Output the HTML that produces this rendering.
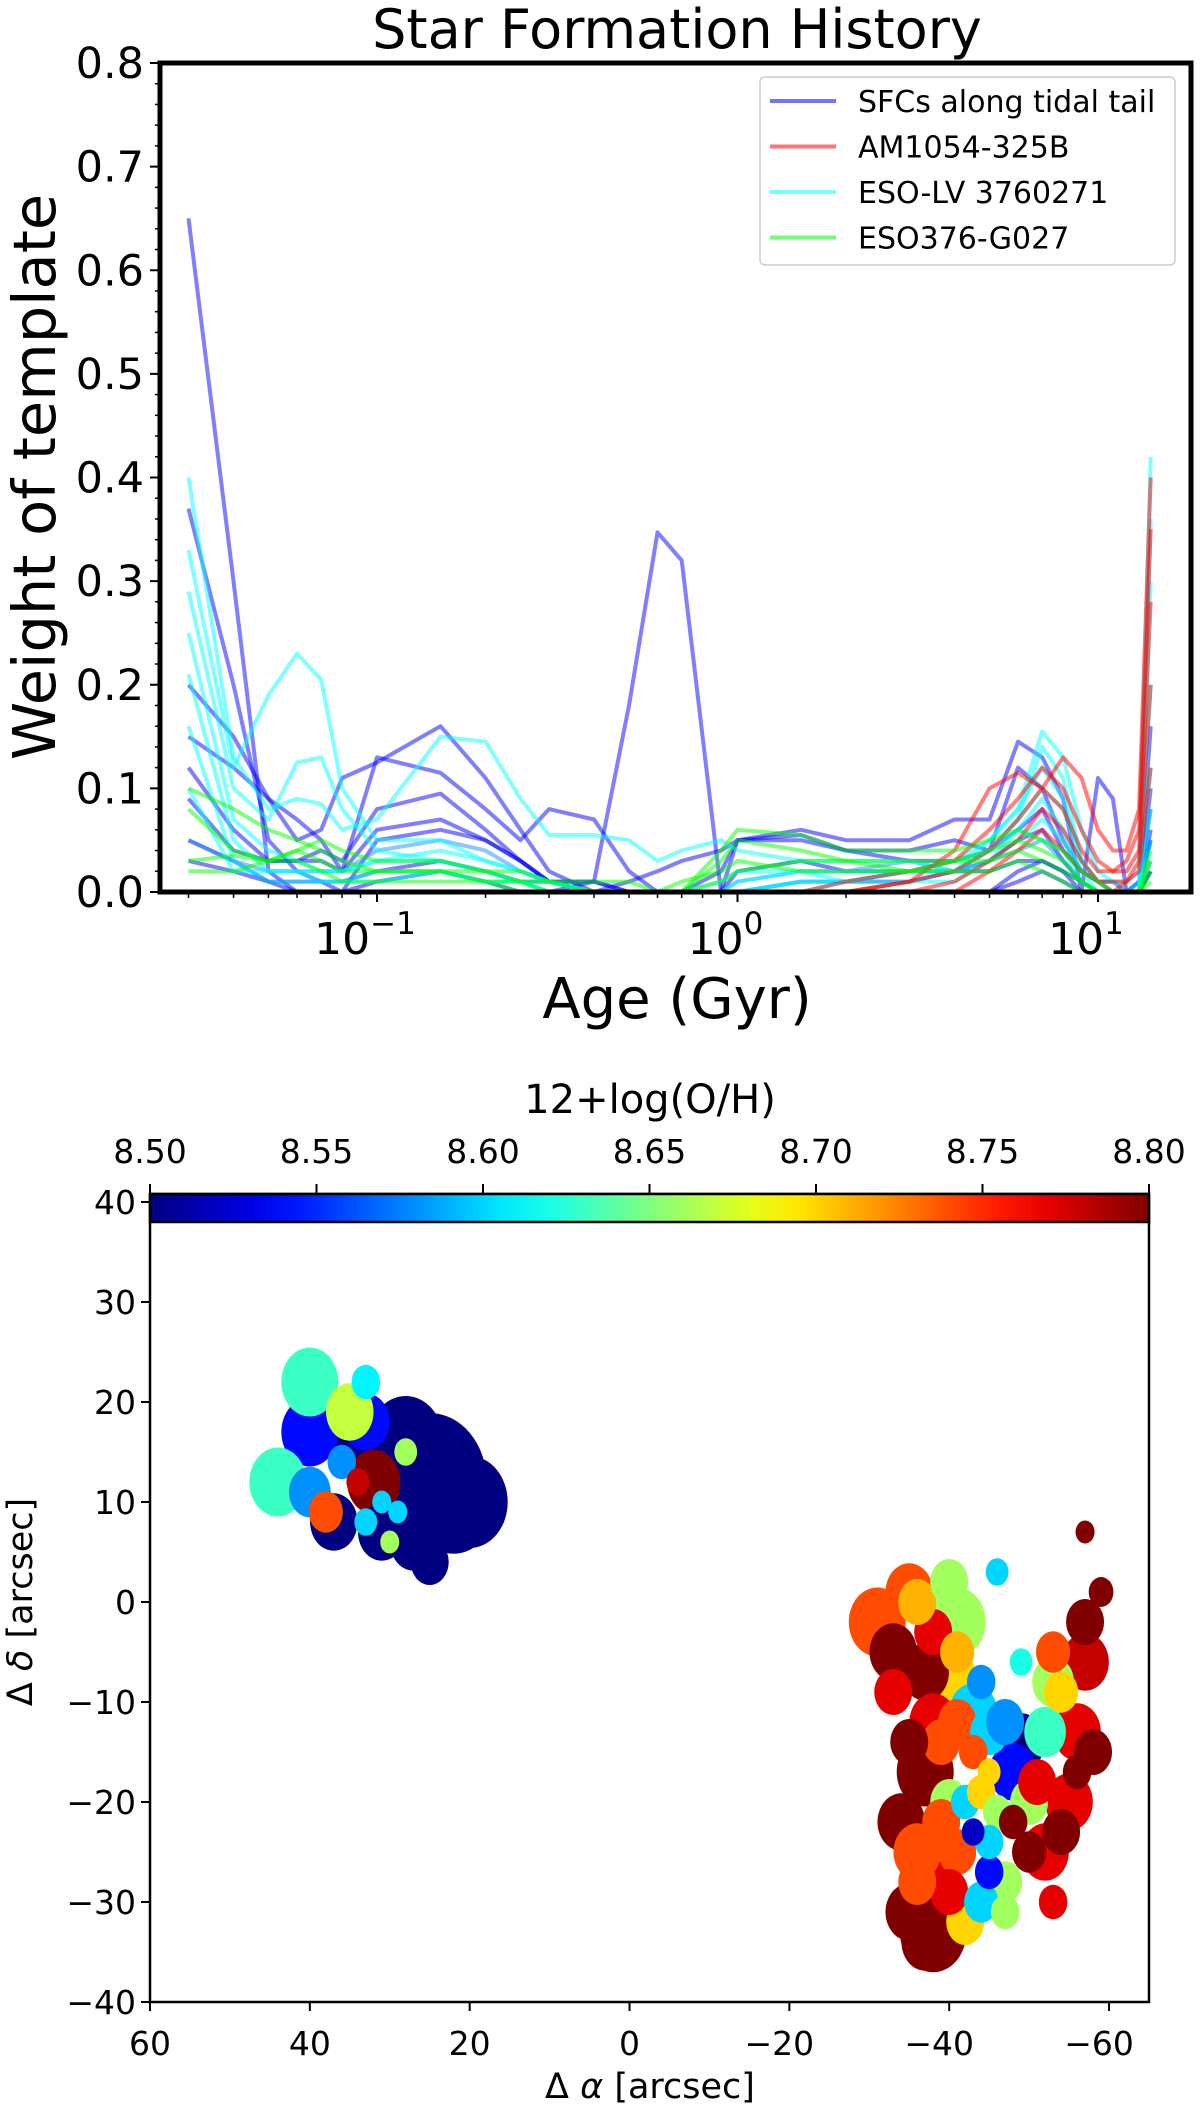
<!DOCTYPE html>
<html><head><meta charset="utf-8">
<style>
html,body{margin:0;padding:0;background:#fff;}
svg{display:block;font-family:"DejaVu Sans","Liberation Sans",sans-serif;}
</style></head>
<body>
<svg id="fig" width="1200" height="2104" viewBox="0 0 1200 2104" xmlns="http://www.w3.org/2000/svg">
<rect width="1200" height="2104" fill="#fff"/>
<g id="sfh"></g>
<g id="map"></g>
</svg>
<script>
// ===== SFH chart data =====
const ages = [0.03,0.04,0.05,0.06,0.07,0.08,0.1,0.15,0.2,0.25,0.3,0.4,0.5,0.6,0.7,0.9,1.0,1.5,2,3,4,5,6,7,8,9,10,11,12,13,14];
const seriesColors = ["#0000ff","#0000ff","#0000ff","#0000ff","#0000ff","#0000ff","#0000ff","#1e90ff","#0000ff",
  "#00ffff","#00ffff","#00ffff","#00ffff","#00ffff","#00ffff","#00ffff",
  "#ff0000","#ff0000","#ff0000","#ff0000","#ff0000",
  "#00ff00","#00ff00","#00ff00","#00ff00"];
const blue1 = [0.65,0.30,0.02,0,0,0,0,0,0,0,0,0,0,0,0,0,0,0,0,0,0,0,0.01,0.02,0.01,0,0,0,0,0.01,0.05];
const blue2 = [0.05,0.03,0.01,0,0,0,0.01,0.02,0.01,0,0,0.01,0.18,0.347,0.32,0,0,0,0,0,0,0,0,0,0,0,0,0,0,0,0.02];
const blue3 = [0.2,0.15,0.09,0.05,0.06,0.11,0.125,0.16,0.11,0.06,0.02,0,0,0,0,0,0,0,0,0,0,0,0.02,0.03,0.02,0,0,0,0,0,0.06];
const blue4 = [0.15,0.12,0.09,0.07,0.05,0.02,0.13,0.115,0.08,0.05,0.08,0.07,0.02,0,0,0,0.05,0.06,0.05,0.05,0.07,0.07,0.145,0.13,0.09,0,0.11,0.09,0,0,0.16];
const blue5 = [0.12,0.06,0.03,0.03,0.04,0.03,0.08,0.095,0.06,0.03,0.01,0,0,0,0,0.02,0.05,0.055,0.04,0.04,0.05,0.04,0.12,0.10,0.05,0.02,0.01,0.01,0,0,0.10];
const blue6 = [0.09,0.04,0.03,0.03,0.03,0.02,0.06,0.07,0.05,0.03,0.01,0,0.01,0.02,0.03,0.04,0.05,0.05,0.04,0.03,0.03,0.04,0.06,0.08,0.04,0.02,0.01,0,0,0,0.05];
const blue7 = [0.37,0.2,0.05,0.02,0.01,0,0.05,0.06,0.05,0.03,0.01,0.01,0,0,0,0,0.02,0.03,0.02,0.02,0.02,0.03,0.05,0.06,0.03,0.01,0,0,0,0.01,0.08];
const blue8 = [0.05,0.03,0.02,0.02,0.02,0.02,0.04,0.05,0.04,0.02,0.01,0,0,0,0,0,0.01,0.02,0.02,0.03,0.02,0.03,0.04,0.05,0.03,0.01,0,0,0,0,0.03];
const blue9 = [0.03,0.02,0.01,0.01,0.01,0.01,0.02,0.03,0.02,0.01,0.01,0.01,0,0,0,0,0,0.01,0.01,0.01,0.02,0.02,0.03,0.03,0.02,0.01,0,0,0,0,0.02];
const cyan1 = [0.40,0.13,0.08,0.09,0.085,0.06,0.07,0.15,0.145,0.09,0.055,0.055,0.05,0.03,0.04,0.05,0.04,0.03,0.03,0.03,0.02,0.05,0.08,0.155,0.13,0.06,0.02,0.01,0.01,0.02,0.42];
const cyan2 = [0.33,0.12,0.19,0.23,0.205,0.10,0.05,0.05,0.03,0.02,0.01,0,0,0,0,0.01,0.02,0.02,0.01,0.02,0.02,0.04,0.07,0.14,0.11,0.03,0.01,0,0,0,0.36];
const cyan3 = [0.29,0.10,0.07,0.125,0.13,0.08,0.04,0.03,0.02,0.01,0,0,0,0,0,0,0,0.01,0.01,0.02,0.03,0.05,0.08,0.12,0.09,0.03,0.01,0,0,0,0.30];
const cyan4 = [0.25,0.07,0.04,0.03,0.02,0.02,0.03,0.04,0.03,0.02,0.01,0,0,0,0,0,0.01,0.02,0.02,0.02,0.03,0.04,0.07,0.10,0.08,0.03,0.01,0.01,0,0.01,0.20];
const cyan5 = [0.21,0.05,0.02,0.02,0.01,0.01,0.02,0.02,0.01,0.01,0.01,0,0,0,0,0,0,0.01,0.01,0.02,0.02,0.04,0.06,0.09,0.06,0.02,0,0,0,0,0.12];
const cyan6 = [0.16,0.03,0.01,0.01,0.01,0.01,0.01,0.02,0.01,0.01,0,0,0,0,0,0,0,0,0.01,0.01,0.02,0.03,0.05,0.07,0.05,0.02,0.01,0,0,0,0.08];
const cyan7 = [0.10,0.02,0.02,0.02,0.02,0.02,0.03,0.03,0.02,0.01,0,0,0,0,0,0,0,0,0,0.01,0.01,0.03,0.06,0.05,0.04,0.01,0,0,0,0,0.05];
const red1 = [0,0,0,0,0,0,0,0,0,0,0,0,0,0,0,0,0,0,0,0.01,0.04,0.10,0.115,0.10,0.13,0.11,0.06,0.04,0.04,0.08,0.40];
const red2 = [0,0,0,0,0,0,0,0,0,0,0,0,0,0,0,0,0,0,0.01,0.02,0.03,0.06,0.09,0.12,0.10,0.06,0.03,0.02,0.03,0.06,0.35];
const red3 = [0,0,0,0,0,0,0,0,0,0,0,0,0,0,0,0,0,0,0,0.01,0.02,0.04,0.07,0.10,0.08,0.04,0.02,0.02,0.02,0.04,0.28];
const red4 = [0,0,0,0,0,0,0,0,0,0,0,0,0,0,0,0,0,0,0,0,0.01,0.03,0.05,0.08,0.06,0.03,0.01,0.01,0.01,0.03,0.20];
const red5 = [0,0,0,0,0,0,0,0,0,0,0,0,0,0,0,0,0,0,0,0,0,0.02,0.04,0.06,0.04,0.02,0.01,0,0.01,0.02,0.12];
const green1 = [0.10,0.08,0.06,0.05,0.04,0.03,0.02,0.02,0.02,0.02,0.01,0.01,0.01,0,0,0.04,0.06,0.055,0.04,0.04,0.04,0.05,0.06,0.05,0.04,0.02,0.01,0,0,0,0.04];
const green2 = [0.08,0.04,0.03,0.04,0.05,0.04,0.03,0.03,0.02,0.01,0,0,0,0,0,0.03,0.05,0.04,0.03,0.03,0.03,0.04,0.05,0.04,0.03,0.01,0,0,0,0,0.03];
const green3 = [0.03,0.035,0.03,0.04,0.03,0.02,0.02,0.02,0.01,0.01,0.01,0,0,0,0,0.01,0.02,0.03,0.03,0.02,0.03,0.03,0.04,0.03,0.02,0.01,0,0,0,0,0.02];
const green4 = [0.02,0.02,0.03,0.03,0.02,0.01,0.01,0.01,0.01,0,0,0,0,0,0.01,0.02,0.03,0.02,0.02,0.02,0.02,0.02,0.03,0.02,0.01,0,0,0,0,0,0.01];
const allSeries = [blue1,blue2,blue3,blue4,blue5,blue6,blue7,blue8,blue9,cyan1,cyan2,cyan3,cyan4,cyan5,cyan6,cyan7,red1,red2,red3,red4,red5,green1,green2,green3,green4];
const yTicks = [0,0.1,0.2,0.3,0.4,0.5,0.6,0.7,0.8];
const xDecades = [-1,0,1];
const legendLabels = ["SFCs along tidal tail","AM1054-325B","ESO-LV 3760271","ESO376-G027"];
const legendColors = ["#0000ff","#ff0000","#00ffff","#00ff00"];

// ===== Map data: [dRA, dDec, 12+log(O/H), radius arcsec] =====
const binsRA  = [25,22,28,34,37,27,25,20,31, 40,33, 40,44,33, 35, 40,36, 38, 32, 34, 33,29,31, 28,30,
 -31,-35,-33,-37,-38,-40,-36,-41,-40,-38,-41,-37,-34,-38,-35,-43,-45,-47,-49,-48,-45,-43,-52,-53,-54,-53,-56,-57,-55,-52,-57,-58,-56,
 -40,-42,-44,-46,-41,-38,-36,-45,-48,-50,-47,-44,-42,-40,-36,-50,-53,-43,-45,-57,-59,-46,-49,
 -33,-39,-35,-44,-51,-54,-39,-37,-47,-41];
const binsDec = [12,10,16,17,8,6,4,10,7, 17,18, 22,12,22, 19, 11,14, 9, 12, 12, 8,9,10, 15,6,
 -2,1,-5,-7,-3,-8,0,-2,2,-12,-12,-17,-22,-33,-31,-11,-13,-12,-14,-17,-27,-23,-13,-8,-9,-5,-13,-6,-20,-25,-2,-15,-17,
 -20,-20,-19,-21,-25,-26,-25,-24,-22,-20,-28,-30,-32,-29,-28,-25,-30,-15,-17,7,1,3,-6,
 -9,-14,-14,-8,-18,-23,-22,-34,-31,-5];
const binsVal = [8.5,8.5,8.5,8.5,8.5,8.5,8.5,8.5,8.5, 8.54,8.54, 8.63,8.63,8.61, 8.67, 8.58,8.58, 8.74, 8.8, 8.78, 8.6,8.6,8.6, 8.66,8.66,
 8.74,8.74,8.8,8.8,8.77,8.7,8.71,8.66,8.66,8.77,8.74,8.8,8.8,8.8,8.8,8.6,8.6,8.58,8.5,8.54,8.54,8.52,8.63,8.66,8.7,8.74,8.77,8.78,8.77,8.77,8.8,8.8,8.8,
 8.66,8.6,8.7,8.66,8.74,8.77,8.74,8.6,8.8,8.66,8.66,8.6,8.7,8.77,8.74,8.8,8.77,8.74,8.7,8.8,8.8,8.6,8.62,
 8.77,8.74,8.8,8.58,8.77,8.8,8.74,8.8,8.66,8.71];
const binsRad = [6,4.5,4,3,2.5,2.5,2,4,2.5, 3,2.5, 3,3,1.5, 2.5, 2.2,1.5, 1.8, 2.8, 1.2, 1.2,1,1, 1.2,1,
 3,2.5,2.5,2.5,2,3,2,3,2,2.5,2,3,2.5,3.5,2.5,2.5,2,2,2.5,2.5,1.5,1.2,2.2,2.2,1.8,1.8,2.5,2.5,2.5,2.5,2,2,1.5,
 2,1.5,1.5,1.5,2,2.5,2.5,1.5,1.5,2,1.8,1.8,2,2,2,1.8,1.5,1.5,1.2,1,1.3,1.2,1.2,
 2,2,2,1.5,2,2,2,2.5,1.5,1.8];
const cbTicks = [8.50,8.55,8.60,8.65,8.70,8.75,8.80];
const mapXTicks = [60,40,20,0,-20,-40,-60];
const mapYTicks = [-40,-30,-20,-10,0,10,20,30,40];

const NS="http://www.w3.org/2000/svg";
function mk(tag, attrs, parent, text){
  const e=document.createElementNS(NS,tag);
  for(const k in attrs) e.setAttribute(k,attrs[k]);
  if(text!==undefined) e.textContent=text;
  parent.appendChild(e); return e;
}
// ---- SFH axes ----
const AX={l:160,r:1191,t:63,b:892};
const xs = a => 377 + (Math.log10(a)+1)*360.5;
const ys = v => AX.b - v*(AX.b-AX.t)/0.8;
const sfh=document.getElementById('sfh');
let t=mk('text',{x:677,y:48,'text-anchor':'middle','font-size':54},sfh,'Star Formation History');


const defs=mk('defs',{},sfh);
const cp=mk('clipPath',{id:'clipA'},defs);
mk('rect',{x:AX.l,y:AX.t,width:AX.r-AX.l,height:AX.b-AX.t},cp);
const lineG=mk('g',{'clip-path':'url(#clipA)'},sfh);
allSeries.forEach((s,i)=>{
  const pts=s.map((v,j)=>xs(ages[j]).toFixed(1)+','+ys(v).toFixed(1)).join(' ');
  const pl=mk('polyline',{points:pts,fill:'none',stroke:seriesColors[i],'stroke-opacity':0.5,'stroke-width':4,'stroke-linejoin':'round'},lineG);
  
  
});
yTicks.forEach(v=>{
  const y=ys(v);
  mk('line',{x1:AX.l-10,x2:AX.l,y1:y,y2:y,stroke:'#000','stroke-width':2},sfh);
  const tl=mk('text',{x:AX.l-16,y:y+15,'text-anchor':'end','font-size':43},sfh,v.toFixed(1));
  
  
});
for(let v=0;v<=0.8001;v+=0.02){mk('line',{x1:AX.l-5,x2:AX.l,y1:ys(v),y2:ys(v),stroke:'#000','stroke-width':1.5},sfh);}
xDecades.forEach(d=>{
  const x=xs(Math.pow(10,d));
  mk('line',{x1:x,x2:x,y1:AX.b,y2:AX.b+10,stroke:'#000','stroke-width':2},sfh);
  const tl=mk('text',{x:x-12,y:AX.b+62,'text-anchor':'middle','font-size':44},sfh);
  
  
  mk('tspan',{},tl,'10');
  mk('tspan',{dy:-20,'font-size':31},tl,d<0?'\u2212'+Math.abs(d):String(d));
});
[0.01,0.1,1,10].forEach(dec=>{for(let k=2;k<=9;k++){const a=dec*k;const x=xs(a);if(x>AX.l&&x<AX.r)mk('line',{x1:x,x2:x,y1:AX.b,y2:AX.b+6,stroke:'#000','stroke-width':1.5},sfh);}});
let fr=mk('rect',{x:AX.l,y:AX.t,width:AX.r-AX.l,height:AX.b-AX.t,fill:'none',stroke:'#000','stroke-width':5},sfh);


t=mk('text',{x:677,y:1018,'text-anchor':'middle','font-size':56},sfh,'Age (Gyr)');


t=mk('text',{x:0,y:0,'text-anchor':'middle','font-size':59,transform:'translate(55,477) rotate(-90)'},sfh,'Weight of template');


const lg=mk('g',{},sfh);


mk('rect',{x:760,y:77,width:415,height:188,rx:5,fill:'#fff','fill-opacity':0.85,stroke:'#ccc','stroke-width':1.5},lg);
legendLabels.forEach((lab,i)=>{
  const y=101+i*45.5;
  mk('line',{x1:770,x2:836,y1:y,y2:y,stroke:legendColors[i],'stroke-opacity':0.55,'stroke-width':4},lg);
  const tx=mk('text',{x:858,y:y+11,'font-size':30},lg,lab);
  
  
});

// ---- Map ----
const M={l:150,r:1149,t:1222,b:2002};
const mx = a => M.l + (60-a)*(M.r-M.l)/125;
const my = d => 2002 - (d+40)*(2002-1202)/80;
function jet(v){
  const tt=Math.max(0,Math.min(1,(v-8.5)/0.3));
  const c=x=>Math.round(255*Math.max(0,Math.min(1,1.5-Math.abs(4*tt-x))));
  return 'rgb('+c(3)+','+c(2)+','+c(1)+')';
}
const map=document.getElementById('map');
const cbDefs=mk('defs',{},map);
const grad=mk('linearGradient',{id:'jetg',x1:0,x2:1,y1:0,y2:0},cbDefs);
for(let i=0;i<=20;i++){mk('stop',{offset:(i/20),'stop-color':jet(8.5+0.3*i/20)},grad);}
const order=binsRad.map((r,i)=>i).sort((a,b)=>binsRad[b]-binsRad[a]);
const binG=mk('g',{},map);
order.forEach(i=>{
  const e=mk('ellipse',{cx:mx(binsRA[i]),cy:my(binsDec[i]),rx:binsRad[i]*9.5,ry:binsRad[i]*11.5,fill:jet(binsVal[i])},binG);
  
  
});
let mf=mk('rect',{x:M.l,y:1194,width:M.r-M.l,height:M.b-1194,fill:'none',stroke:'#000','stroke-width':2.5},map);


const cb=mk('rect',{x:M.l,y:1194,width:M.r-M.l,height:28,fill:'url(#jetg)',stroke:'#000','stroke-width':2.5},map);


cbTicks.forEach(v=>{
  const x=M.l+(v-8.5)/0.3*(M.r-M.l);
  mk('line',{x1:x,x2:x,y1:1194,y2:1184,stroke:'#000','stroke-width':2},map);
  const tl=mk('text',{x:x,y:1163,'text-anchor':'middle','font-size':33},map,v.toFixed(2));
  
  
});
t=mk('text',{x:650,y:1113,'text-anchor':'middle','font-size':40},map,'12+log(O/H)');


mapXTicks.forEach(v=>{
  const x=mx(v);
  mk('line',{x1:x,x2:x,y1:M.b,y2:M.b+9,stroke:'#000','stroke-width':2},map);
  const tl=mk('text',{x:v<0?x-10:x,y:2055,'text-anchor':'middle','font-size':33},map,v<0?'\u2212'+Math.abs(v):String(v));
  
  
});
mapYTicks.forEach(v=>{
  const y=my(v);
  mk('line',{x1:M.l-9,x2:M.l,y1:y,y2:y,stroke:'#000','stroke-width':2},map);
  const tl=mk('text',{x:M.l-14,y:y+12,'text-anchor':'end','font-size':33},map,v<0?'\u2212'+Math.abs(v):String(v));
  
  
});
t=mk('text',{x:650,y:2098,'text-anchor':'middle','font-size':35},map);


mk('tspan',{},t,'\u0394 ');mk('tspan',{'font-style':'italic'},t,'\u03b1');mk('tspan',{},t,' [arcsec]');
t=mk('text',{x:0,y:0,'text-anchor':'middle','font-size':35,transform:'translate(32,1602) rotate(-90)'},map);


mk('tspan',{},t,'\u0394 ');mk('tspan',{'font-style':'italic'},t,'\u03b4');mk('tspan',{},t,' [arcsec]');
</script>
</body></html>
